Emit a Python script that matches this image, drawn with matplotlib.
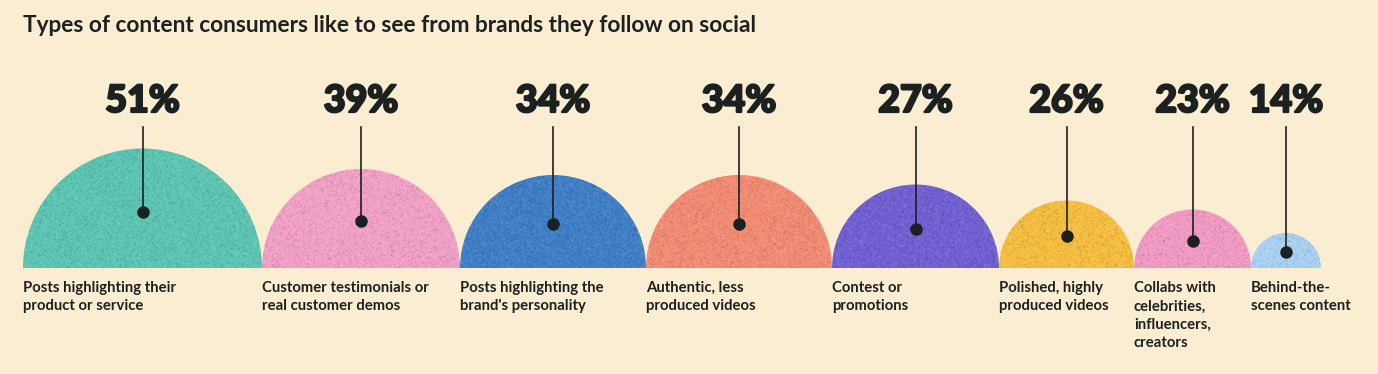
import numpy as np
import matplotlib
matplotlib.use('Agg')
import matplotlib.pyplot as plt
import matplotlib.patheffects as pe
from matplotlib.patches import Wedge

title = 'Types of content consumers like to see from brands they follow on social'
values = [51, 39, 34, 34, 27, 26, 23, 14]
# dome widths (diameters), px
widths = [239, 198, 186, 186, 167, 135, 117, 70]
labels = ['Posts highlighting their\nproduct or service',
          'Customer testimonials or\nreal customer demos',
          "Posts highlighting the\nbrand's personality",
          'Authentic, less\nproduced videos',
          'Contest or\npromotions',
          'Polished, highly\nproduced videos',
          'Collabs with\ncelebrities,\ninfluencers,\ncreators',
          'Behind-the-\nscenes content']
colors = ['#5cc5b3', '#f2a0c6', '#3f7ec6', '#f28b73', '#7060d2', '#f6be40', '#f29ac4', '#aad1f3']

BG = '#faedd2'
INK = '#1b2120'
W, H = 1378, 374
base = H - 268

plt.rcParams['font.family'] = ['Lato', 'DejaVu Sans']
fig = plt.figure(figsize=(W / 100, H / 100), dpi=100, facecolor=BG)
ax = fig.add_axes([0, 0, 1, 1])
ax.set_xlim(0, W)
ax.set_ylim(0, H)
ax.set_facecolor(BG)
ax.axis('off')

# grain texture for the domes: light/dark speckle with zero mean
rng = np.random.default_rng(3)
noise = rng.normal(0, 1, (H, W))
noise = (noise + np.roll(noise, 1, 0) + np.roll(noise, 1, 1) + np.roll(np.roll(noise, 1, 0), 1, 1)) / 4
grain = np.zeros((H, W, 4))
grain[..., :3] = (noise > 0)[..., None].astype(float)
grain[..., 3] = np.clip(np.abs(noise) * 0.09, 0, 0.2)

ax.text(23, H - 25, title, fontsize=16.3, fontweight='bold', color=INK, ha='left', va='center')

left = 23
for v, w, lab, c in zip(values, widths, labels, colors):
    r = w / 2
    cx = left + r
    wedge = Wedge((cx, base), r, 0, 180, facecolor=c, edgecolor='none')
    ax.add_patch(wedge)
    im = ax.imshow(grain, extent=(0, W, 0, H), origin='lower', zorder=2, interpolation='nearest')
    im.set_clip_path(wedge)
    dot_y = base + r * 0.47
    ax.plot([cx, cx], [dot_y, H - 127], color=INK, lw=1.2, zorder=3)
    ax.plot(cx, dot_y, 'o', color=INK, ms=8, zorder=4)
    ax.text(cx, H - 101, f'{v}%', fontsize=27, fontweight=900, color=INK, ha='center', va='center',
            path_effects=[pe.withStroke(linewidth=1.6, foreground=INK)])
    ax.text(left, H - 281, lab, fontsize=10.7, fontweight='bold', color=INK, ha='left', va='top',
            linespacing=1.4)
    left += w

ax.set_aspect('auto')
fig.savefig('out.png', dpi=100, facecolor=BG)
